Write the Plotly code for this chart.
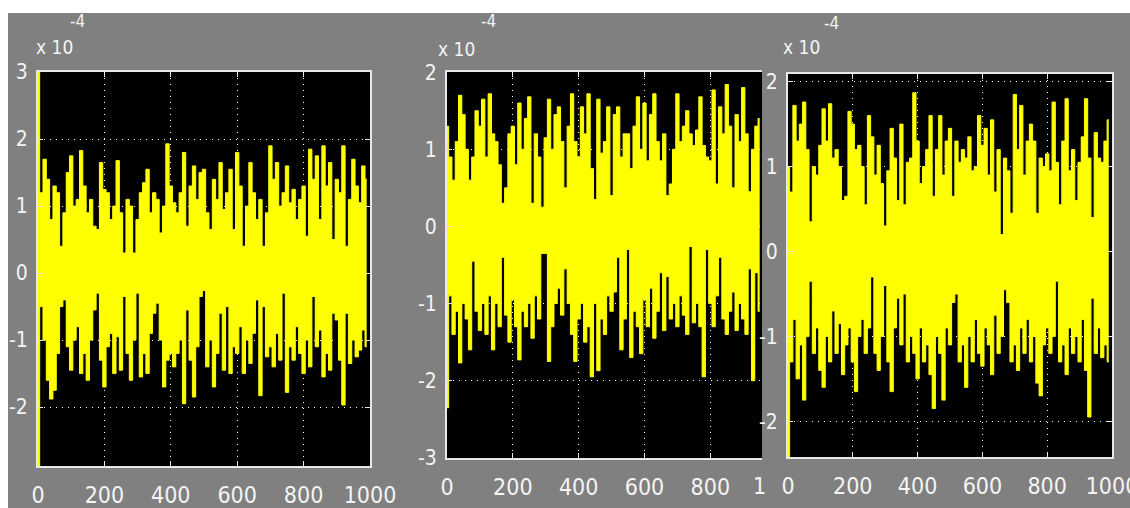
import plotly.graph_objects as go

W, H = 1130, 508

# ---------------- data (signal in units of 1e-4) ----------------
# upper / lower envelope readings, one pair every 10 samples
p1_hi = [3.0, 1.2, 1.7, 1.4, 0.8, 1.3, 1.2, 0.4, 0.9, 1.5,
         1.75, 1.0, 1.1, 1.83, 1.3, 0.9, 1.1, 0.7, 0.65, 1.65,
         1.25, 1.2, 0.8, 1.0, 1.68, 0.9, 0.3, 1.1, 1.0, 0.3,
         0.8, 1.2, 1.35, 1.55, 0.9, 1.2, 1.1, 0.6, 1.0, 1.93,
         1.3, 1.05, 0.9, 1.2, 1.8, 0.7, 1.3, 1.6, 1.1, 1.5,
         1.55, 0.9, 0.65, 1.4, 1.1, 1.65, 0.95, 1.2, 1.55, 0.65,
         1.8, 1.3, 0.4, 1.0, 1.65, 1.2, 0.8, 1.1, 0.4, 0.9,
         1.9, 1.4, 1.65, 1.0, 1.2, 1.6, 1.05, 1.25, 0.8, 1.1,
         1.3, 0.55, 1.85, 1.4, 1.75, 0.8, 1.9, 1.3, 1.65, 0.5,
         1.4, 1.2, 1.9, 0.4, 1.1, 1.7, 1.3, 1.05, 1.6, 1.4]
p1_lo = [-2.88, -0.5, -1.0, -1.6, -1.88, -1.75, -1.2, -0.5, -0.4, -1.1,
         -1.45, -1.0, -0.8, -1.5, -1.2, -1.6, -1.0, -0.55, -0.3, -1.3,
         -1.7, -1.1, -0.9, -1.5, -0.95, -1.45, -0.35, -1.2, -1.6, -1.0,
         -0.3, -1.55, -1.2, -1.5, -0.9, -0.6, -0.45, -1.0, -1.7, -1.3,
         -1.2, -1.4, -1.2, -1.0, -1.95, -0.55, -1.3, -1.85, -1.1, -0.35,
         -0.26, -1.4, -1.0, -1.7, -1.2, -0.6, -1.45, -0.5, -1.5, -1.1,
         -1.2, -0.8, -1.5, -1.0, -1.35, -0.9, -0.4, -1.83, -0.5, -1.25,
         -1.1, -1.4, -0.9, -1.3, -0.3, -1.78, -1.1, -1.3, -0.8, -1.2,
         -1.5, -1.0, -1.4, -0.35, -1.1, -0.85, -1.55, -1.2, -1.45, -0.6,
         -0.7, -1.3, -1.97, -0.6, -1.35, -1.0, -1.25, -1.15, -0.85, -1.1]

p2_hi = [1.3, 0.9, 0.6, 1.1, 1.7, 1.45, 1.0, 0.6, 0.9, 1.5,
         1.3, 1.65, 0.9, 1.72, 1.2, 1.1, 0.8, 0.3, 0.5, 1.2,
         1.3, 0.8, 1.6, 1.0, 1.4, 1.68, 0.3, 1.2, 0.9, 0.25,
         1.15, 1.65, 1.0, 1.45, 1.55, 1.1, 0.5, 1.3, 1.72, 1.1,
         0.9, 1.55, 1.2, 1.72, 0.75, 0.35, 1.65, 0.95, 1.1, 1.55,
         0.4, 1.45, 1.55, 0.9, 1.2, 1.2, 0.75, 1.3, 1.68, 1.0,
         1.6, 0.85, 1.45, 1.72, 1.1, 0.85, 1.2, 0.4, 0.55, 1.0,
         1.72, 1.1, 1.3, 1.5, 1.2, 1.05, 1.25, 1.68, 1.05, 0.9,
         0.85, 1.77, 0.55, 1.55, 1.2, 1.84, 1.3, 0.5, 1.45, 1.1,
         1.8, 1.2, 0.45, 1.0, 1.3, 1.4]
p2_lo = [-2.35, -0.9, -1.4, -1.1, -1.77, -1.0, -1.2, -1.6, -0.45, -1.1,
         -1.35, -1.0, -1.4, -0.9, -1.6, -1.0, -1.3, -0.4, -1.15, -1.5,
         -0.95, -1.3, -1.73, -1.1, -1.3, -1.0, -1.45, -0.9, -1.2, -0.35,
         -0.35, -1.75, -1.3, -1.0, -0.8, -1.15, -0.55, -1.0, -1.4, -1.75,
         -1.2, -1.0, -1.5, -1.3, -1.95, -1.0, -1.87, -1.2, -1.4, -0.9,
         -1.1, -0.85, -0.4, -1.6, -1.2, -0.3, -1.7, -1.1, -1.3, -1.65,
         -0.95, -1.3, -0.8, -1.45, -1.1, -0.6, -1.35, -0.65, -1.2, -1.0,
         -1.3, -0.9, -1.15, -1.4, -0.26, -1.25, -1.0, -1.3, -1.95, -0.3,
         -1.0, -1.3, -0.9, -0.4, -1.2, -1.4, -1.1, -0.85, -1.35, -1.0,
         -1.2, -1.4, -0.55, -2.0, -0.6, -1.1]

p3_hi = [1.0, 0.7, 1.72, 1.3, 1.5, 1.76, 1.2, 0.35, 1.0, 0.9,
         1.25, 1.68, 1.3, 1.74, 1.1, 1.2, 1.0, 0.6, 0.65, 1.65,
         1.5, 1.2, 1.25, 1.0, 0.55, 1.6, 1.35, 0.9, 1.25, 0.8,
         0.3, 0.95, 1.45, 1.1, 0.6, 1.5, 0.55, 1.05, 1.1, 1.87,
         1.3, 0.8, 1.0, 1.2, 1.6, 0.65, 1.2, 1.6, 0.9, 1.3,
         1.45, 0.65, 1.3, 1.05, 1.2, 1.1, 1.35, 0.95, 1.0, 1.6,
         1.25, 1.45, 0.9, 1.55, 0.7, 1.2, 0.2, 1.1, 0.95, 0.45,
         1.85, 1.2, 1.72, 0.9, 1.3, 1.5, 1.3, 0.45, 1.1, 1.0,
         1.15, 0.95, 1.76, 1.05, 0.55, 1.3, 1.8, 0.95, 1.2, 0.6,
         1.05, 1.35, 1.8, 1.1, 0.4, 1.4, 1.1, 1.05, 1.3, 1.55]
p3_lo = [-2.42, -1.3, -0.8, -1.5, -1.1, -1.75, -1.0, -0.35, -1.2, -0.9,
         -1.4, -1.6, -1.0, -1.3, -0.7, -1.2, -0.85, -1.45, -1.1, -0.9,
         -1.3, -1.65, -1.0, -0.8, -1.2, -0.9, -0.3, -1.2, -1.4, -1.0,
         -0.4, -1.3, -1.65, -0.9, -0.55, -1.1, -0.5, -1.3, -1.0, -1.2,
         -1.5, -0.9, -1.3, -1.1, -1.45, -1.85, -1.0, -1.2, -1.75, -0.9,
         -1.1, -0.6, -0.5, -1.3, -1.1, -1.6, -1.0, -1.3, -0.8, -1.2,
         -1.35, -0.9, -1.1, -1.45, -0.75, -1.2, -1.0, -0.45, -0.6, -1.3,
         -1.1, -1.4, -0.9, -1.2, -0.8, -1.3, -1.0, -1.55, -1.7, -1.1,
         -0.9, -1.2, -1.0, -0.35, -1.3, -1.1, -1.45, -0.9, -1.2, -1.0,
         -1.3, -0.8, -1.4, -1.95, -0.55, -1.2, -0.9, -1.25, -1.1, -1.3]

SAMPLE_STEP = 10  # samples between successive envelope readings

x_tick_vals = [0, 200, 400, 600, 800, 1000]
x_tick_text = ["0", "200", "400", "600", "800", "1000"]
p1_y_vals = [3, 2, 1, 0, -1, -2]
p1_y_text = ["3", "2", "1", "0", "-1", "-2"]
p2_y_vals = [2, 1, 0, -1, -2, -3]
p2_y_text = ["2", "1", "0", "-1", "-2", "-3"]
p3_y_vals = [2, 1, 0, -1, -2]
p3_y_text = ["2", "1", "0", "-1", "-2"]
scale_text = "x 10"
exp_text = "-4"


# ---------------- layout helpers ----------------
def dx(px0, px1):
    return [px0 / W, px1 / W]


def dy(top, bottom):
    return [1 - bottom / H, 1 - top / H]


GRAY = "#808080"
YEL = "#ffff00"
TXT = "#f4f4f4"
LINE = "#e8e8e8"
FONT = "DejaVu Sans Condensed, Liberation Sans Narrow, Arial Narrow, sans-serif"

fig = go.Figure()
for k, (hi, lo) in enumerate([(p1_hi, p1_lo), (p2_hi, p2_lo), (p3_hi, p3_lo)], start=1):
    xa = "x" if k == 1 else f"x{k}"
    ya = "y" if k == 1 else f"y{k}"
    t = [i * SAMPLE_STEP for i in range(len(hi))]
    # lower envelope, then upper envelope filled down to it (dense noise band)
    fig.add_trace(go.Scatter(x=t, y=lo, mode="lines", line=dict(color=YEL, width=1, shape="hvh"),
                             xaxis=xa, yaxis=ya, hoverinfo="skip", showlegend=False))
    fig.add_trace(go.Scatter(x=t, y=hi, mode="lines", line=dict(color=YEL, width=1, shape="hvh"),
                             fill="tonexty", fillcolor=YEL,
                             xaxis=xa, yaxis=ya, hoverinfo="skip", showlegend=False))

common_x = dict(tickmode="array", tickvals=x_tick_vals, ticktext=x_tick_text,
                showgrid=True, gridcolor="#ffffff", gridwidth=1, griddash="1px,5px",
                zeroline=False, showline=True, linecolor=LINE, linewidth=2,
                ticks="inside", ticklen=5, tickcolor=LINE, tickwidth=1,
                tickfont=dict(family=FONT, size=23, color=TXT),
                ticklabelstandoff=7, automargin=False, ticklabeloverflow="allow")
common_y = dict(tickmode="array",
                showgrid=True, gridcolor="#ffffff", gridwidth=1, griddash="1px,5px",
                zeroline=False, showline=True, linecolor=LINE, linewidth=2,
                ticks="inside", ticklen=5, tickcolor=LINE, tickwidth=1,
                tickfont=dict(family=FONT, size=21, color=TXT),
                ticklabelstandoff=4, automargin=False, ticklabeloverflow="allow")

fig.update_layout(
    template="none",
    width=W, height=H, margin=dict(l=0, r=0, t=0, b=0, pad=0), autosize=False,
    paper_bgcolor=GRAY, plot_bgcolor="#000000",
    xaxis=dict(domain=dx(38, 370), range=[0, 1000], anchor="y", mirror="ticks", **common_x),
    yaxis=dict(domain=dy(72, 466), range=[-2.88, 3.002], anchor="x", mirror="ticks",
               tickvals=p1_y_vals, ticktext=p1_y_text, **common_y),
    xaxis2=dict(domain=dx(447, 762), range=[0, 957], anchor="y2", mirror="ticks", **common_x),
    yaxis2=dict(domain=dy(72, 458), range=[-3.002, 2.002], anchor="x2", mirror=False,
                tickvals=p2_y_vals, ticktext=p2_y_text, **common_y),
    xaxis3=dict(domain=dx(788, 1112), range=[0, 1000], anchor="y3", mirror="ticks", **common_x),
    yaxis3=dict(domain=dy(74, 457), range=[-2.42, 2.09], anchor="x3", mirror="ticks",
                tickvals=p3_y_vals, ticktext=p3_y_text, **common_y),
)

# white margins of the original screenshot
fig.add_shape(type="rect", xref="paper", yref="paper", x0=-0.01, x1=1.01, y0=1 - 13 / H, y1=1.01,
              fillcolor="white", line=dict(width=0, color="white"), opacity=1, layer="above")
fig.add_shape(type="rect", xref="paper", yref="paper", x0=-0.01, x1=8 / W, y0=-0.01, y1=1.01,
              fillcolor="white", line=dict(width=0, color="white"), opacity=1, layer="above")

# "x 10^-4" scale labels
for cx, cy, ex, ey in [(54, 47, 77, 21), (457, 49, 489, 21), (802, 47, 831, 23)]:
    fig.add_annotation(x=cx / W, y=1 - cy / H, xref="paper", yref="paper", showarrow=False,
                       xanchor="center", yanchor="middle",
                       text=scale_text, font=dict(family=FONT, size=19, color=TXT))
    fig.add_annotation(x=ex / W, y=1 - ey / H, xref="paper", yref="paper", showarrow=False,
                       xanchor="center", yanchor="middle",
                       text=exp_text, font=dict(family=FONT, size=17, color=TXT))

# visible start of panel 2's clipped "1000" tick label
fig.add_annotation(x=759 / W, y=1 - 486 / H, xref="paper", yref="paper", showarrow=False,
                   xanchor="center", yanchor="middle",
                   text="1", font=dict(family=FONT, size=23, color=TXT))

fig.write_html("out.html")
